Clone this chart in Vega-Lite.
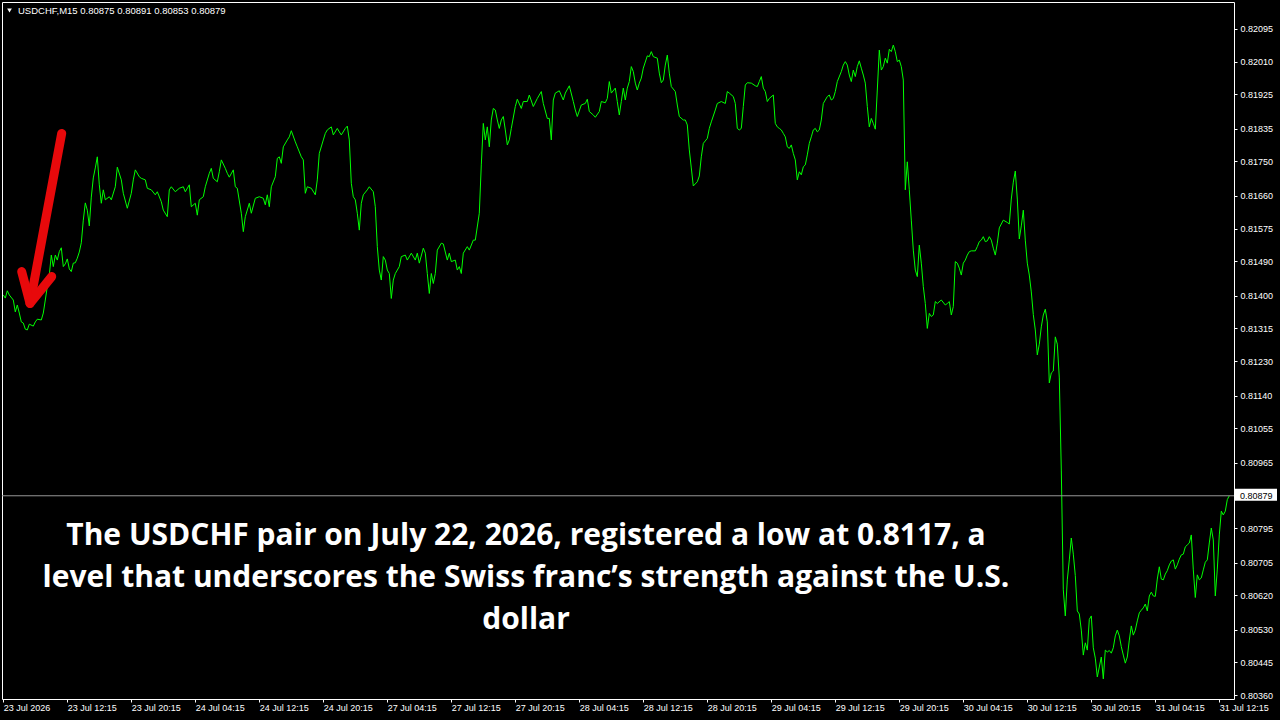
{
"$schema": "https://vega.github.io/schema/vega-lite/v6.json",
"width": 1232,
"height": 697,
"autosize": {"type": "none"},
"padding": {"left": 2, "top": 2, "right": 46, "bottom": 21},
"background": "#000000",
"config": {
 "view": {"stroke": "#ffffff", "strokeWidth": 1},
 "axis": {"grid": false, "domain": false, "labelFont": "Liberation Sans", "labelFontSize": 9, "labelColor": "#ffffff", "tickColor": "#ffffff", "tickSize": 3, "labelOverlap": false, "labelFlush": false, "labelBound": false},
 "axisX": {"labelAlign": "left", "labelBaseline": "top", "labelPadding": 1},
 "axisY": {"labelAlign": "left", "labelBaseline": "middle", "labelPadding": 3}
},
"resolve": {"axis": {"x": "independent", "y": "independent"}},
"datasets": {
 "usdchf": [
{"bar":0,"price":0.81402},{"bar":1,"price":0.81394},{"bar":2,"price":0.81413},{"bar":3,"price":0.81402},{"bar":5,"price":0.81389},{"bar":6,"price":0.81358},{"bar":7,"price":0.81376},{"bar":8,"price":0.81355},{"bar":9,"price":0.81332},{"bar":10,"price":0.81329},{"bar":11,"price":0.81313},{"bar":12,"price":0.81311},{"bar":13,"price":0.81326},{"bar":15,"price":0.81321},{"bar":16,"price":0.81332},{"bar":17,"price":0.81339},{"bar":19,"price":0.81337},{"bar":20,"price":0.81355},{"bar":21,"price":0.81389},{"bar":22,"price":0.81424},{"bar":23,"price":0.81454},{"bar":24,"price":0.81506},{"bar":25,"price":0.81476},{"bar":26,"price":0.81506},{"bar":27,"price":0.81493},{"bar":28,"price":0.81515},{"bar":29,"price":0.81525},{"bar":30,"price":0.81476},{"bar":31,"price":0.81483},{"bar":32,"price":0.81496},{"bar":33,"price":0.8147},{"bar":34,"price":0.81463},{"bar":35,"price":0.81485},{"bar":36,"price":0.81486},{"bar":37,"price":0.81498},{"bar":38,"price":0.81514},{"bar":39,"price":0.81538},{"bar":40,"price":0.81597},{"bar":41,"price":0.81642},{"bar":42,"price":0.81623},{"bar":43,"price":0.81582},{"bar":44,"price":0.81657},{"bar":45,"price":0.81707},{"bar":46,"price":0.81733},{"bar":47,"price":0.81762},{"bar":48,"price":0.81689},{"bar":49,"price":0.81641},{"bar":50,"price":0.81676},{"bar":51,"price":0.8165},{"bar":53,"price":0.81658},{"bar":54,"price":0.8165},{"bar":56,"price":0.81684},{"bar":57,"price":0.81735},{"bar":59,"price":0.81702},{"bar":60,"price":0.81667},{"bar":62,"price":0.81628},{"bar":64,"price":0.81667},{"bar":65,"price":0.81702},{"bar":66,"price":0.81728},{"bar":68,"price":0.8171},{"bar":69,"price":0.81706},{"bar":71,"price":0.81702},{"bar":72,"price":0.8168},{"bar":74,"price":0.81676},{"bar":76,"price":0.81663},{"bar":77,"price":0.81671},{"bar":79,"price":0.81645},{"bar":80,"price":0.81623},{"bar":82,"price":0.81606},{"bar":83,"price":0.81676},{"bar":84,"price":0.81684},{"bar":86,"price":0.81671},{"bar":88,"price":0.8168},{"bar":90,"price":0.81684},{"bar":91,"price":0.81671},{"bar":93,"price":0.81689},{"bar":94,"price":0.81632},{"bar":96,"price":0.81641},{"bar":97,"price":0.8161},{"bar":98,"price":0.8165},{"bar":100,"price":0.81658},{"bar":101,"price":0.81684},{"bar":103,"price":0.81719},{"bar":104,"price":0.81732},{"bar":105,"price":0.81706},{"bar":107,"price":0.81697},{"bar":108,"price":0.81723},{"bar":109,"price":0.81754},{"bar":111,"price":0.81732},{"bar":112,"price":0.81719},{"bar":113,"price":0.81709},{"bar":115,"price":0.81728},{"bar":116,"price":0.81684},{"bar":117,"price":0.8168},{"bar":119,"price":0.81615},{"bar":120,"price":0.81567},{"bar":121,"price":0.81606},{"bar":123,"price":0.81641},{"bar":124,"price":0.81615},{"bar":126,"price":0.81654},{"bar":128,"price":0.81658},{"bar":130,"price":0.81654},{"bar":131,"price":0.81637},{"bar":132,"price":0.81663},{"bar":133,"price":0.81632},{"bar":134,"price":0.81684},{"bar":136,"price":0.8171},{"bar":137,"price":0.81758},{"bar":138,"price":0.81762},{"bar":139,"price":0.81745},{"bar":140,"price":0.81788},{"bar":142,"price":0.81806},{"bar":143,"price":0.81814},{"bar":144,"price":0.8183},{"bar":146,"price":0.81801},{"bar":147,"price":0.81788},{"bar":149,"price":0.81762},{"bar":150,"price":0.81754},{"bar":151,"price":0.81667},{"bar":152,"price":0.81684},{"bar":154,"price":0.8168},{"bar":156,"price":0.81663},{"bar":157,"price":0.81702},{"bar":158,"price":0.81771},{"bar":160,"price":0.81806},{"bar":161,"price":0.81823},{"bar":162,"price":0.81832},{"bar":164,"price":0.8184},{"bar":165,"price":0.81819},{"bar":167,"price":0.81836},{"bar":168,"price":0.81827},{"bar":169,"price":0.81819},{"bar":171,"price":0.81836},{"bar":172,"price":0.81842},{"bar":173,"price":0.81806},{"bar":174,"price":0.81693},{"bar":175,"price":0.81658},{"bar":176,"price":0.8165},{"bar":177,"price":0.81615},{"bar":178,"price":0.81571},{"bar":179,"price":0.81641},{"bar":180,"price":0.81663},{"bar":182,"price":0.81676},{"bar":183,"price":0.81684},{"bar":185,"price":0.81671},{"bar":186,"price":0.81632},{"bar":187,"price":0.81528},{"bar":188,"price":0.81467},{"bar":189,"price":0.81441},{"bar":190,"price":0.81502},{"bar":191,"price":0.81493},{"bar":192,"price":0.81467},{"bar":193,"price":0.81458},{"bar":194,"price":0.81393},{"bar":195,"price":0.81441},{"bar":196,"price":0.81458},{"bar":198,"price":0.81476},{"bar":199,"price":0.81502},{"bar":201,"price":0.81506},{"bar":202,"price":0.81493},{"bar":204,"price":0.81511},{"bar":206,"price":0.81493},{"bar":207,"price":0.81511},{"bar":208,"price":0.81485},{"bar":210,"price":0.81524},{"bar":211,"price":0.81511},{"bar":212,"price":0.81458},{"bar":213,"price":0.81406},{"bar":214,"price":0.81458},{"bar":215,"price":0.81432},{"bar":216,"price":0.81458},{"bar":217,"price":0.81519},{"bar":219,"price":0.81537},{"bar":220,"price":0.81535},{"bar":222,"price":0.81493},{"bar":223,"price":0.81511},{"bar":224,"price":0.81489},{"bar":226,"price":0.81493},{"bar":227,"price":0.81467},{"bar":228,"price":0.81476},{"bar":229,"price":0.81458},{"bar":230,"price":0.81511},{"bar":232,"price":0.81528},{"bar":233,"price":0.81519},{"bar":235,"price":0.81545},{"bar":236,"price":0.81545},{"bar":238,"price":0.81615},{"bar":239,"price":0.81741},{"bar":240,"price":0.81849},{"bar":241,"price":0.81806},{"bar":242,"price":0.8184},{"bar":243,"price":0.81788},{"bar":244,"price":0.81858},{"bar":245,"price":0.81888},{"bar":246,"price":0.81884},{"bar":247,"price":0.81858},{"bar":248,"price":0.81836},{"bar":249,"price":0.81858},{"bar":250,"price":0.81867},{"bar":251,"price":0.81832},{"bar":252,"price":0.81793},{"bar":253,"price":0.81806},{"bar":254,"price":0.81836},{"bar":256,"price":0.81893},{"bar":257,"price":0.81912},{"bar":259,"price":0.81888},{"bar":260,"price":0.81906},{"bar":262,"price":0.81906},{"bar":263,"price":0.81923},{"bar":265,"price":0.81893},{"bar":267,"price":0.81914},{"bar":269,"price":0.81932},{"bar":270,"price":0.81901},{"bar":272,"price":0.81862},{"bar":273,"price":0.81862},{"bar":274,"price":0.81806},{"bar":275,"price":0.8191},{"bar":276,"price":0.81928},{"bar":278,"price":0.81934},{"bar":280,"price":0.8191},{"bar":281,"price":0.81928},{"bar":283,"price":0.81947},{"bar":285,"price":0.81906},{"bar":286,"price":0.81884},{"bar":287,"price":0.81867},{"bar":289,"price":0.81897},{"bar":291,"price":0.81901},{"bar":292,"price":0.81912},{"bar":293,"price":0.8188},{"bar":295,"price":0.81871},{"bar":296,"price":0.81865},{"bar":298,"price":0.8188},{"bar":299,"price":0.81906},{"bar":301,"price":0.81903},{"bar":302,"price":0.81914},{"bar":303,"price":0.81958},{"bar":304,"price":0.81928},{"bar":306,"price":0.81941},{"bar":307,"price":0.81906},{"bar":308,"price":0.81871},{"bar":309,"price":0.81906},{"bar":310,"price":0.81941},{"bar":311,"price":0.8191},{"bar":312,"price":0.81941},{"bar":313,"price":0.81958},{"bar":314,"price":0.81997},{"bar":315,"price":0.81984},{"bar":316,"price":0.81954},{"bar":317,"price":0.81936},{"bar":318,"price":0.81954},{"bar":319,"price":0.81967},{"bar":320,"price":0.81993},{"bar":322,"price":0.82025},{"bar":323,"price":0.82023},{"bar":324,"price":0.82036},{"bar":325,"price":0.82023},{"bar":327,"price":0.82019},{"bar":328,"price":0.8198},{"bar":329,"price":0.81955},{"bar":330,"price":0.81962},{"bar":331,"price":0.82001},{"bar":332,"price":0.82027},{"bar":333,"price":0.8198},{"bar":334,"price":0.81945},{"bar":336,"price":0.81932},{"bar":337,"price":0.81897},{"bar":338,"price":0.81867},{"bar":340,"price":0.81858},{"bar":341,"price":0.81858},{"bar":342,"price":0.81845},{"bar":343,"price":0.8178},{"bar":344,"price":0.81733},{"bar":345,"price":0.81686},{"bar":347,"price":0.81697},{"bar":348,"price":0.81712},{"bar":349,"price":0.81762},{"bar":350,"price":0.81797},{"bar":352,"price":0.8181},{"bar":353,"price":0.81836},{"bar":354,"price":0.81853},{"bar":356,"price":0.81884},{"bar":357,"price":0.81901},{"bar":359,"price":0.81906},{"bar":361,"price":0.81901},{"bar":362,"price":0.81932},{"bar":363,"price":0.81928},{"bar":365,"price":0.81919},{"bar":366,"price":0.81901},{"bar":367,"price":0.81836},{"bar":368,"price":0.81832},{"bar":369,"price":0.81836},{"bar":370,"price":0.81893},{"bar":371,"price":0.81949},{"bar":372,"price":0.81955},{"bar":374,"price":0.81954},{"bar":376,"price":0.81947},{"bar":377,"price":0.81945},{"bar":378,"price":0.81958},{"bar":379,"price":0.81971},{"bar":380,"price":0.81941},{"bar":381,"price":0.81932},{"bar":382,"price":0.81906},{"bar":383,"price":0.81914},{"bar":385,"price":0.81923},{"bar":386,"price":0.81849},{"bar":387,"price":0.8184},{"bar":388,"price":0.81836},{"bar":389,"price":0.81832},{"bar":390,"price":0.81823},{"bar":391,"price":0.81814},{"bar":392,"price":0.81788},{"bar":393,"price":0.81784},{"bar":394,"price":0.81793},{"bar":395,"price":0.81771},{"bar":396,"price":0.81754},{"bar":397,"price":0.81702},{"bar":398,"price":0.81723},{"bar":399,"price":0.81715},{"bar":400,"price":0.81736},{"bar":401,"price":0.81741},{"bar":402,"price":0.81767},{"bar":403,"price":0.81797},{"bar":404,"price":0.81814},{"bar":405,"price":0.81832},{"bar":406,"price":0.81836},{"bar":407,"price":0.81827},{"bar":408,"price":0.81832},{"bar":409,"price":0.81858},{"bar":410,"price":0.81901},{"bar":412,"price":0.81919},{"bar":413,"price":0.81923},{"bar":414,"price":0.8191},{"bar":415,"price":0.81914},{"bar":416,"price":0.81932},{"bar":417,"price":0.81958},{"bar":419,"price":0.81984},{"bar":420,"price":0.82001},{"bar":421,"price":0.8201},{"bar":422,"price":0.82001},{"bar":423,"price":0.81975},{"bar":424,"price":0.81958},{"bar":425,"price":0.81988},{"bar":426,"price":0.81971},{"bar":427,"price":0.81997},{"bar":428,"price":0.82012},{"bar":429,"price":0.81993},{"bar":430,"price":0.81975},{"bar":431,"price":0.81954},{"bar":432,"price":0.81893},{"bar":433,"price":0.8184},{"bar":434,"price":0.81862},{"bar":435,"price":0.81849},{"bar":436,"price":0.81834},{"bar":437,"price":0.81936},{"bar":438,"price":0.8204},{"bar":439,"price":0.81988},{"bar":440,"price":0.81997},{"bar":441,"price":0.82019},{"bar":442,"price":0.82006},{"bar":443,"price":0.82042},{"bar":444,"price":0.82036},{"bar":445,"price":0.82053},{"bar":446,"price":0.82036},{"bar":447,"price":0.8201},{"bar":448,"price":0.82014},{"bar":449,"price":0.81997},{"bar":450,"price":0.81962},{"bar":451,"price":0.81676},{"bar":452,"price":0.81749},{"bar":453,"price":0.81676},{"bar":454,"price":0.81597},{"bar":455,"price":0.81519},{"bar":456,"price":0.81467},{"bar":457,"price":0.8145},{"bar":458,"price":0.81532},{"bar":459,"price":0.81485},{"bar":460,"price":0.81424},{"bar":461,"price":0.8138},{"bar":462,"price":0.81315},{"bar":463,"price":0.81354},{"bar":464,"price":0.81346},{"bar":465,"price":0.8135},{"bar":466,"price":0.81385},{"bar":467,"price":0.8138},{"bar":469,"price":0.81389},{"bar":471,"price":0.81376},{"bar":472,"price":0.8138},{"bar":473,"price":0.81385},{"bar":474,"price":0.8135},{"bar":475,"price":0.81372},{"bar":476,"price":0.81489},{"bar":477,"price":0.81485},{"bar":478,"price":0.81472},{"bar":479,"price":0.81454},{"bar":480,"price":0.81485},{"bar":481,"price":0.81493},{"bar":482,"price":0.81506},{"bar":483,"price":0.81515},{"bar":484,"price":0.81517},{"bar":486,"price":0.81517},{"bar":487,"price":0.81528},{"bar":488,"price":0.81541},{"bar":489,"price":0.81545},{"bar":490,"price":0.81554},{"bar":491,"price":0.81541},{"bar":492,"price":0.81543},{"bar":493,"price":0.81554},{"bar":494,"price":0.81545},{"bar":495,"price":0.81524},{"bar":496,"price":0.81506},{"bar":497,"price":0.81537},{"bar":498,"price":0.81577},{"bar":500,"price":0.81597},{"bar":502,"price":0.81591},{"bar":503,"price":0.81587},{"bar":504,"price":0.81652},{"bar":505,"price":0.81696},{"bar":506,"price":0.81725},{"bar":507,"price":0.81652},{"bar":508,"price":0.81548},{"bar":509,"price":0.81582},{"bar":510,"price":0.81623},{"bar":511,"price":0.81545},{"bar":512,"price":0.81485},{"bar":513,"price":0.81454},{"bar":514,"price":0.8141},{"bar":515,"price":0.81351},{"bar":516,"price":0.81311},{"bar":517,"price":0.81246},{"bar":518,"price":0.81274},{"bar":519,"price":0.81319},{"bar":520,"price":0.8135},{"bar":521,"price":0.81365},{"bar":522,"price":0.81332},{"bar":523,"price":0.81173},{"bar":524,"price":0.81199},{"bar":525,"price":0.81204},{"bar":526,"price":0.81293},{"bar":527,"price":0.81274},{"bar":528,"price":0.81186},{"bar":529,"price":0.80946},{"bar":530,"price":0.80634},{"bar":531,"price":0.80566},{"bar":532,"price":0.8066},{"bar":533,"price":0.80712},{"bar":534,"price":0.80769},{"bar":535,"price":0.80727},{"bar":536,"price":0.80671},{"bar":537,"price":0.80579},{"bar":538,"price":0.80571},{"bar":539,"price":0.80529},{"bar":540,"price":0.80464},{"bar":541,"price":0.80496},{"bar":542,"price":0.80477},{"bar":543,"price":0.80557},{"bar":544,"price":0.80566},{"bar":545,"price":0.80483},{"bar":546,"price":0.80456},{"bar":547,"price":0.80407},{"bar":548,"price":0.80433},{"bar":549,"price":0.80459},{"bar":550,"price":0.80402},{"bar":551,"price":0.80477},{"bar":552,"price":0.80472},{"bar":553,"price":0.80476},{"bar":554,"price":0.80469},{"bar":555,"price":0.80483},{"bar":556,"price":0.80514},{"bar":557,"price":0.80529},{"bar":558,"price":0.80514},{"bar":559,"price":0.80486},{"bar":560,"price":0.80464},{"bar":561,"price":0.80443},{"bar":562,"price":0.80459},{"bar":563,"price":0.80503},{"bar":564,"price":0.8054},{"bar":565,"price":0.80516},{"bar":566,"price":0.80529},{"bar":567,"price":0.80553},{"bar":568,"price":0.80574},{"bar":569,"price":0.80581},{"bar":570,"price":0.80587},{"bar":571,"price":0.80597},{"bar":572,"price":0.80579},{"bar":573,"price":0.80618},{"bar":574,"price":0.80628},{"bar":575,"price":0.80618},{"bar":576,"price":0.80617},{"bar":577,"price":0.80662},{"bar":578,"price":0.80694},{"bar":579,"price":0.80662},{"bar":580,"price":0.8066},{"bar":581,"price":0.80675},{"bar":582,"price":0.80684},{"bar":583,"price":0.80699},{"bar":584,"price":0.80709},{"bar":585,"price":0.80712},{"bar":586,"price":0.80688},{"bar":587,"price":0.80699},{"bar":588,"price":0.80714},{"bar":589,"price":0.80725},{"bar":590,"price":0.80727},{"bar":591,"price":0.80746},{"bar":592,"price":0.80751},{"bar":593,"price":0.80756},{"bar":594,"price":0.80777},{"bar":595,"price":0.80686},{"bar":596,"price":0.80614},{"bar":597,"price":0.80673},{"bar":598,"price":0.8066},{"bar":599,"price":0.80665},{"bar":600,"price":0.80686},{"bar":601,"price":0.80706},{"bar":602,"price":0.80712},{"bar":603,"price":0.80756},{"bar":604,"price":0.80795},{"bar":605,"price":0.80764},{"bar":606,"price":0.80618},{"bar":607,"price":0.80688},{"bar":608,"price":0.80777},{"bar":609,"price":0.80839},{"bar":610,"price":0.80829},{"bar":611,"price":0.80839},{"bar":612,"price":0.80869},{"bar":613,"price":0.80879}
 ],
 "arrow": [
  {"seg": "shaft", "ord": 0, "bar": 29.2, "price": 0.81823},
  {"seg": "shaft", "ord": 1, "bar": 13.35, "price": 0.8138},
  {"seg": "head", "ord": 0, "bar": 9.2, "price": 0.81463},
  {"seg": "head", "ord": 1, "bar": 13.35, "price": 0.8138},
  {"seg": "head", "ord": 2, "bar": 24.2, "price": 0.8145}
 ]
},
"layer": [
 {"data": {"name": "usdchf"},
  "mark": {"type": "line", "color": "#00ff00", "strokeWidth": 1, "clip": true},
  "encoding": {
   "x": {"field": "bar", "type": "quantitative",
     "scale": {"domain": [-0.65, 615.35], "nice": false, "zero": false},
     "axis": {"title": null, "orient": "bottom", "labelOverlap": false, "labelFlush": false, "labelBound": false,
       "values": [0,32,64,96,128,160,192,224,256,288,320,352,384,416,448,480,512,544,576,608],
       "labelExpr": "['23 Jul 2026','23 Jul 12:15','23 Jul 20:15','24 Jul 04:15','24 Jul 12:15','24 Jul 20:15','27 Jul 04:15','27 Jul 12:15','27 Jul 20:15','28 Jul 04:15','28 Jul 12:15','28 Jul 20:15','29 Jul 04:15','29 Jul 12:15','29 Jul 20:15','30 Jul 04:15','30 Jul 12:15','30 Jul 20:15','31 Jul 04:15','31 Jul 12:15'][round(datum.value/32)]"}},
   "y": {"field": "price", "type": "quantitative",
     "scale": {"domain": [0.803496, 0.821653], "nice": false, "zero": false},
     "axis": {"title": null, "orient": "right", "format": ".5f", "labelOverlap": false, "labelFlush": false, "labelBound": false,
       "values": [0.82095,0.8201,0.81925,0.81835,0.8175,0.8166,0.81575,0.8149,0.814,0.81315,0.8123,0.8114,0.81055,0.80965,0.80795,0.80705,0.8062,0.8053,0.80445,0.8036]}}
  }},
 {"data": {"values": [{}]},
  "mark": {"type": "rule", "color": "#969696", "strokeWidth": 1},
  "encoding": {"x": {"datum": -0.65, "axis": null}, "x2": {"datum": 615.35}, "y": {"datum": 0.80879, "axis": null}}},
 {"data": {"name": "arrow"},
  "mark": {"type": "line", "color": "#e8090b", "strokeWidth": 9, "strokeCap": "round", "strokeJoin": "round"},
  "encoding": {
   "x": {"field": "bar", "type": "quantitative", "axis": null},
   "y": {"field": "price", "type": "quantitative", "axis": null},
   "detail": {"field": "seg"}, "order": {"field": "ord", "type": "quantitative"}}},
 {"data": {"values": [{}]},
  "mark": {"type": "rect", "color": "#ffffff"},
  "encoding": {"x": {"datum": 615.35, "axis": null}, "x2": {"datum": 636.85}, "y": {"datum": 0.80897, "axis": null}, "y2": {"datum": 0.80866}}},
 {"data": {"values": [{}]},
  "mark": {"type": "text", "color": "#000000", "font": "Liberation Sans", "fontSize": 9, "align": "left", "baseline": "middle", "dx": 6},
  "encoding": {"x": {"datum": 615.35, "axis": null}, "y": {"datum": 0.80879, "axis": null}, "text": {"value": "0.80879"}}},
 {"data": {"values": [{}]},
  "mark": {"type": "point", "shape": "triangle-down", "filled": true, "color": "#ffffff", "size": 22, "opacity": 1},
  "encoding": {"x": {"datum": 3.1, "axis": null}, "y": {"datum": 0.82143, "axis": null}}},
 {"data": {"values": [{}]},
  "mark": {"type": "text", "color": "#ffffff", "font": "Liberation Sans", "fontSize": 9.5, "align": "left", "baseline": "middle"},
  "encoding": {"x": {"datum": 7.35, "axis": null}, "y": {"datum": 0.82142, "axis": null}, "text": {"value": "USDCHF,M15  0.80875 0.80891 0.80853 0.80879"}}},
 {"data": {"values": [{}]},
  "mark": {"type": "text", "color": "#ffffff", "font": "Open Sans", "fontWeight": "bold", "fontSize": 30, "align": "center", "baseline": "alphabetic", "lineHeight": 42},
  "encoding": {"x": {"datum": 261.35, "axis": null}, "y": {"datum": 0.80751, "axis": null},
   "text": {"value": ["The USDCHF pair on July 22, 2026, registered a low at 0.8117, a", "level that underscores the Swiss franc’s strength against the U.S.", "dollar"]}}}
]
}
